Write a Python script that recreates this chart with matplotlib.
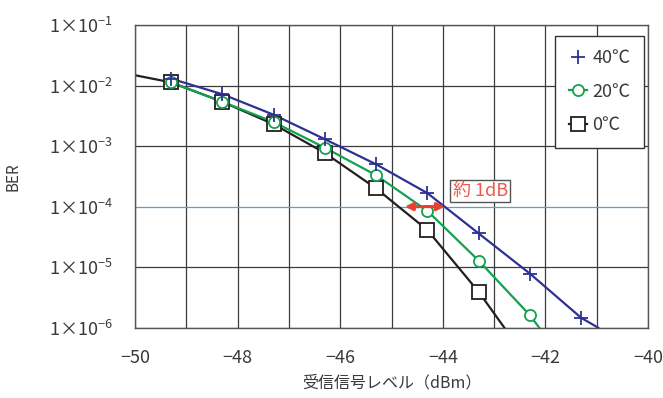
import numpy as np
import matplotlib
matplotlib.use("Agg")
import matplotlib.pyplot as plt
from matplotlib.ticker import FixedLocator, FixedFormatter, MultipleLocator, NullFormatter

plt.rcParams['font.family'] = ['Noto Sans CJK JP', 'DejaVu Sans']
plt.rcParams['mathtext.fontset'] = 'custom'
plt.rcParams['mathtext.rm'] = 'Noto Sans CJK JP'
plt.rcParams['mathtext.it'] = 'Noto Sans CJK JP'

# measured points (dBm, BER)
level = [-49.3, -48.3, -47.3, -46.3, -45.3, -44.3, -43.3, -42.3, -41.3]
ber_40 = [1.3e-2, 7.2e-3, 3.3e-3, 1.3e-3, 5.0e-4, 1.67e-4, 3.6e-5, 7.8e-6, 1.45e-6]
ber_20 = [1.13e-2, 5.4e-3, 2.5e-3, 9.4e-4, 3.3e-4, 8.5e-5, 1.28e-5, 1.6e-6]
ber_0 = [1.13e-2, 5.4e-3, 2.3e-3, 7.7e-4, 2.0e-4, 4.1e-5, 3.9e-6]

# where the drawn curves run past the markers
tail_40 = (-40.97, 1e-6)
tail_20 = (-42.12, 1e-6)
head_0 = (-50.0, 1.48e-2)
tail_0 = (-42.8, 1e-6)

legend_labels = ['40℃', '20℃', '0℃']
ytick_vals = [1e-1, 1e-2, 1e-3, 1e-4, 1e-5, 1e-6]
ytick_labels = ['1×10$^{-%d}$' % k for k in range(1, 7)]
xtick_vals = [-50, -48, -46, -44, -42, -40]

c40 = '#2e3192'
c20 = '#12a150'
c0 = '#231f20'
txt = '#3a3a3a'

fig = plt.figure(figsize=(6.63, 3.98), dpi=100)
ax = fig.add_axes([135 / 663, 1 - 327.7 / 398, 513 / 663, 302.7 / 398])
ax.set_yscale('log')
ax.set_xlim(-50, -40)
ax.set_ylim(1e-6, 1e-1)

# grid
ax.xaxis.set_minor_locator(MultipleLocator(1))
ax.xaxis.set_minor_formatter(NullFormatter())
ax.yaxis.set_major_locator(FixedLocator(ytick_vals))
ax.yaxis.set_major_formatter(FixedFormatter(ytick_labels))
ax.yaxis.set_minor_locator(FixedLocator([]))
ax.xaxis.set_major_locator(FixedLocator(xtick_vals))
ax.set_xticklabels(['\u2212%d' % abs(v) for v in xtick_vals])
ax.grid(True, which='both', axis='x', color='#3c3c3c', lw=0.9)
for v in ytick_vals:
    if v == 1e-4:
        ax.axhline(v, color='#4fa3d6', lw=0.9, zorder=1)
    else:
        ax.axhline(v, color='#3c3c3c', lw=0.9, zorder=1)
ax.set_axisbelow(True)
for s in ax.spines.values():
    s.set_color('#555555')
    s.set_linewidth(1.0)

ax.tick_params(which='both', length=0)
ax.tick_params(axis='y', labelsize=13, labelcolor=txt, pad=16)
ax.tick_params(axis='x', labelsize=13, labelcolor=txt, pad=15)

# curves
ax.plot(level + [tail_40[0]], ber_40 + [tail_40[1]], color=c40, lw=1.6, zorder=3)
ax.plot(level[:len(ber_20)] + [tail_20[0]], ber_20 + [tail_20[1]], color=c20, lw=1.6, zorder=4)
ax.plot([head_0[0]] + level[:len(ber_0)] + [tail_0[0]], [head_0[1]] + ber_0 + [tail_0[1]],
        color=c0, lw=1.6, zorder=2)

# markers
ax.plot(level[:len(ber_0)], ber_0, ls='none', marker='s', ms=10, mfc='white', mec=c0, mew=1.3, zorder=5)
ax.plot(level[:len(ber_20)], ber_20, ls='none', marker='o', ms=8, mfc='white', mec=c20, mew=1.3, zorder=6)
ax.plot(level, ber_40, ls='none', marker='+', ms=10, mec=c40, mew=1.3, zorder=7)

# legend handles
h40, = ax.plot([], [], color=c40, ls='none', marker='+', ms=10, mew=1.3)
h20, = ax.plot([], [], color=c20, lw=1.6, marker='o', ms=8, mfc='white', mew=1.3)
h0, = ax.plot([], [], color=c0, lw=1.6, marker='s', ms=10, mfc='white', mew=1.3)
leg = ax.legend([h40, h20, h0], legend_labels, loc='upper right',
                bbox_to_anchor=(0.992, 0.964), borderaxespad=0, fontsize=13,
                fancybox=False, framealpha=1, edgecolor='#333333', handlelength=1.0,
                handletextpad=0.3, labelspacing=0.85, borderpad=0.75,
                labelcolor=txt)
leg.get_frame().set_linewidth(1.0)

# ~1 dB annotation
ax.annotate('', xy=(-44.74, 1e-4), xytext=(-43.96, 1e-4),
            arrowprops=dict(arrowstyle='<|-|>', color='#e8402e', lw=2.2,
                            mutation_scale=11, shrinkA=0, shrinkB=0), zorder=8)
ax.text(-43.27, 1.79e-4, '約 1dB', color='#f0584a', fontsize=13, ha='center', va='center',
        bbox=dict(boxstyle='square,pad=0.12', fc='white', ec='#555555', lw=1.0), zorder=9)

ax.set_ylabel('BER', fontsize=11, color=txt)
ax.yaxis.set_label_coords(-0.222, 0.5)
ax.set_xlabel('受信信号レベル（dBm）', fontsize=11.5, color=txt)
ax.xaxis.set_label_coords(0.5, -0.155)

fig.savefig('out.png', dpi=100)
